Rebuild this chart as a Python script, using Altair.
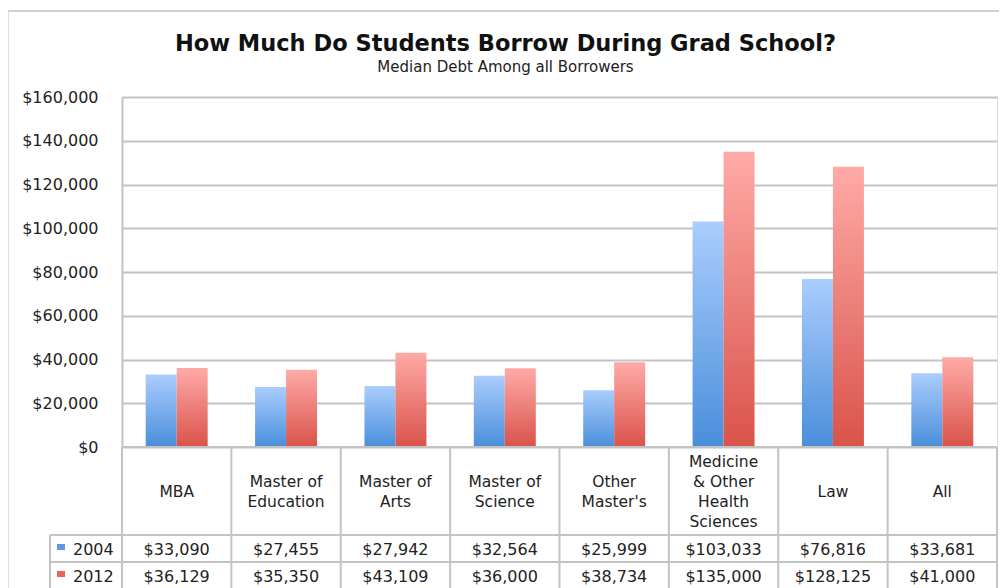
import altair as alt
import pandas as pd

# ---- data ----
categories = ["MBA", "Master of Education", "Master of Arts", "Master of Science",
              "Other Master's", "Medicine & Other Health Sciences", "Law", "All"]
header_labels = ["MBA", "Master of\nEducation", "Master of\nArts", "Master of\nScience",
                 "Other\nMaster's", "Medicine\n& Other\nHealth\nSciences", "Law", "All"]
years = ["2004", "2012"]
debt_2004 = [33090, 27455, 27942, 32564, 25999, 103033, 76816, 33681]
debt_2012 = [36129, 35350, 43109, 36000, 38734, 135000, 128125, 41000]

df04 = pd.DataFrame({"cat": categories, "year": "2004", "value": debt_2004})
df12 = pd.DataFrame({"cat": categories, "year": "2012", "value": debt_2012})
hdr = pd.DataFrame({"cat": categories, "header": header_labels})
hdr["nlines"] = hdr["header"].str.count("\n") + 1

W, H = 875, 350
FONT = "DejaVu Sans"
GRID = "#c3c3c3"
TXT = "#222222"

xscale = alt.Scale(domain=categories, paddingInner=0, paddingOuter=0)
xoff = alt.XOffset("year:N", scale=alt.Scale(domain=years, paddingInner=0, paddingOuter=0.765))
X = alt.X("cat:N", scale=xscale, axis=None, sort=categories)
Y = alt.Y("value:Q", scale=alt.Scale(domain=[0, 160000]),
          axis=alt.Axis(values=list(range(0, 160001, 20000)), format="$,.0f", title=None,
                        ticks=False, labelPadding=24, labelFontSize=16, labelFont=FONT,
                        labelColor=TXT, grid=True, gridColor=GRID, gridWidth=2,
                        domain=True, domainColor=GRID, domainWidth=2))

blue_grad = alt.LinearGradient(gradient="linear", x1=0, y1=0, x2=0, y2=1,
                               stops=[alt.GradientStop(color="#aacdfd", offset=0),
                                      alt.GradientStop(color="#4a8edb", offset=1)])
red_grad = alt.LinearGradient(gradient="linear", x1=0, y1=0, x2=0, y2=1,
                              stops=[alt.GradientStop(color="#ffaaa7", offset=0),
                                     alt.GradientStop(color="#d9534a", offset=1)])

bars04 = alt.Chart(df04).mark_bar(color=blue_grad).encode(x=X, xOffset=xoff, y=Y)
bars12 = alt.Chart(df12).mark_bar(color=red_grad).encode(x=X, xOffset=xoff, y=Y)

def rule(**enc):
    return alt.Chart(hdr).mark_rule(color=GRID, strokeWidth=2).encode(**enc)

base_line = rule(x=alt.value(0), x2=alt.value(W), y=alt.value(H))
vlines = rule(x=alt.X("cat:N", scale=xscale, bandPosition=0, axis=None, sort=categories),
              y=alt.value(H), y2=alt.value(500))
vline_right = rule(x=alt.value(W), y=alt.value(H), y2=alt.value(500))
vline_left = rule(x=alt.value(-72), y=alt.value(438), y2=alt.value(500))
hline1 = rule(x=alt.value(-72), x2=alt.value(W), y=alt.value(438))
hline2 = rule(x=alt.value(-72), x2=alt.value(W), y=alt.value(465))

# outer frame of the chart
frame_top = alt.Chart(hdr).mark_rule(color="#cfcfcf", strokeWidth=1.5).encode(
    x=alt.value(-117), x2=alt.value(885), y=alt.value(-86))
frame_left = alt.Chart(hdr).mark_rule(color="#e0e0e0", strokeWidth=1).encode(
    x=alt.value(-114), y=alt.value(-86), y2=alt.value(500))

# header labels (vertically centred in the header row)
header_layers = []
for n in sorted(hdr["nlines"].unique()):
    header_layers.append(
        alt.Chart(hdr).transform_filter(alt.datum.nlines == int(n)).mark_text(
            lineBreak="\n", lineHeight=20, fontSize=15.5, font=FONT, color=TXT,
            baseline="middle").encode(
            x=alt.X("cat:N", scale=xscale, axis=None, sort=categories),
            y=alt.value(395 - (int(n) - 1) * 10), text="header:N"))

# value rows
row04 = alt.Chart(df04).mark_text(fontSize=16, font=FONT, color=TXT, baseline="middle").encode(
    x=alt.X("cat:N", scale=xscale, axis=None, sort=categories),
    y=alt.value(453), text=alt.Text("value:Q", format="$,.0f"))
row12 = alt.Chart(df12).mark_text(fontSize=16, font=FONT, color=TXT, baseline="middle").encode(
    x=alt.X("cat:N", scale=xscale, axis=None, sort=categories),
    y=alt.value(480), text=alt.Text("value:Q", format="$,.0f"))

# row labels with colour swatches
lab04 = alt.Chart(pd.DataFrame({"year": [years[0]]})).mark_text(
    fontSize=16, font=FONT, color=TXT, align="left", baseline="middle").encode(
    x=alt.value(-49), y=alt.value(453), text="year:N")
lab12 = alt.Chart(pd.DataFrame({"year": [years[1]]})).mark_text(
    fontSize=16, font=FONT, color=TXT, align="left", baseline="middle").encode(
    x=alt.value(-49), y=alt.value(480), text="year:N")
sw04 = alt.Chart(pd.DataFrame({"year": [years[0]]})).mark_rect(color="#5b9be0").encode(
    x=alt.value(-65), x2=alt.value(-57), y=alt.value(447), y2=alt.value(453))
sw12 = alt.Chart(pd.DataFrame({"year": [years[1]]})).mark_rect(color="#e8625a").encode(
    x=alt.value(-65), x2=alt.value(-57), y=alt.value(474), y2=alt.value(480))

chart = alt.layer(
    bars04, bars12, base_line, vlines, vline_right, vline_left, hline1, hline2,
    frame_top, frame_left, *header_layers, row04, row12, lab04, lab12, sw04, sw12
).properties(
    width=W, height=H,
    title=alt.TitleParams(
        text="How Much Do Students Borrow During Grad School?",
        subtitle="Median Debt Among all Borrowers",
        fontSize=22.5, font=FONT, fontWeight="bold", color="#111111",
        subtitleFontSize=15, subtitleFont=FONT, subtitleColor=TXT,
        subtitlePadding=5, anchor="middle", frame="group", offset=-65, dx=-54
    ),
    autosize=alt.AutoSizeParams(type="none"),
    padding={"left": 114, "top": 89, "right": 2, "bottom": 141},
).configure_view(stroke=None).configure(background="white")

chart.save("out.html", embed_options={"renderer": "svg", "actions": False})
